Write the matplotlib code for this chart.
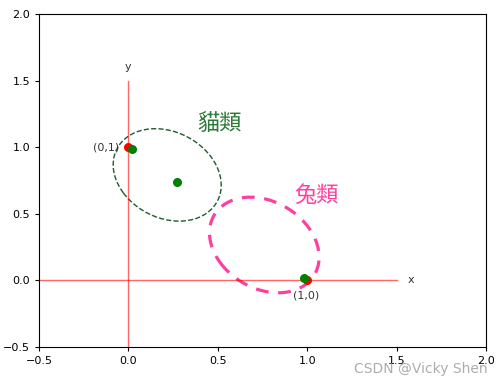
import matplotlib
matplotlib.use("Agg")
import matplotlib.pyplot as plt
from matplotlib.patches import Ellipse

plt.rcParams['font.family'] = ['DejaVu Sans', 'Noto Sans CJK TC']

# data
red_x = [0, 1]
red_y = [1, 0]
green_x = [0.02, 0.27, 0.98]
green_y = [0.99, 0.74, 0.02]
point_labels = ['(0,1)', '(1,0)']
cat_labels = ['貓類', '兔類']
cat_centers = [(0.217, 0.792), (0.76, 0.266)]
cat_sizes = [(0.73, 0.56), (0.76, 0.56)]
cat_angles = [-61, -61]
ticks = [-0.5, 0.0, 0.5, 1.0, 1.5, 2.0]

fig = plt.figure(figsize=(5.02, 3.84), dpi=100)
ax = fig.add_axes([39/502, 37/384, 447/502, 333/384])
ax.set_xlim(-0.5, 2.0)
ax.set_ylim(-0.5, 2.0)
ax.set_xticks(ticks)
ax.set_yticks(ticks)
ax.tick_params(labelsize=8, length=3)

# axis lines
ax.plot([-0.5, 1.5], [0, 0], color='red', alpha=0.6, lw=1)
ax.plot([0, 0], [-0.5, 1.5], color='red', alpha=0.6, lw=1)
ax.text(1.58, 0, 'x', fontsize=8, ha='center', va='center', color='#333333')
ax.text(0, 1.6, 'y', fontsize=8, ha='center', va='center', color='#333333')

ax.scatter(red_x, red_y, color='red', s=30, zorder=3)
ax.scatter(green_x, green_y, color='green', s=30, zorder=4)

ax.text(-0.2, 1.0, point_labels[0], fontsize=8, ha='left', va='center', color='#333333')
ax.text(0.92, -0.11, point_labels[1], fontsize=8, ha='left', va='center', color='#333333')

ax.add_patch(Ellipse(cat_centers[0], cat_sizes[0][0], cat_sizes[0][1], angle=cat_angles[0],
                     fill=False, ls='--', lw=1, color='#1e5c2e'))
ax.add_patch(Ellipse(cat_centers[1], cat_sizes[1][0], cat_sizes[1][1], angle=cat_angles[1],
                     fill=False, ls=(0, (4, 3)), lw=2.3, color='#ff3fa0'))

ax.text(0.51, 1.18, cat_labels[0], fontsize=16, ha='center', va='center', color='#2a7a35',
        family=['Noto Sans CJK TC', 'DejaVu Sans'])
ax.text(1.05, 0.64, cat_labels[1], fontsize=16, ha='center', va='center', color='#ff3fa0',
        family=['Noto Sans CJK TC', 'DejaVu Sans'])

fig.text(0.972, 0.04, 'CSDN @Vicky Shen', fontsize=10, ha='right', va='center', color='#999999', alpha=0.8)

fig.savefig('out.png', dpi=100)
